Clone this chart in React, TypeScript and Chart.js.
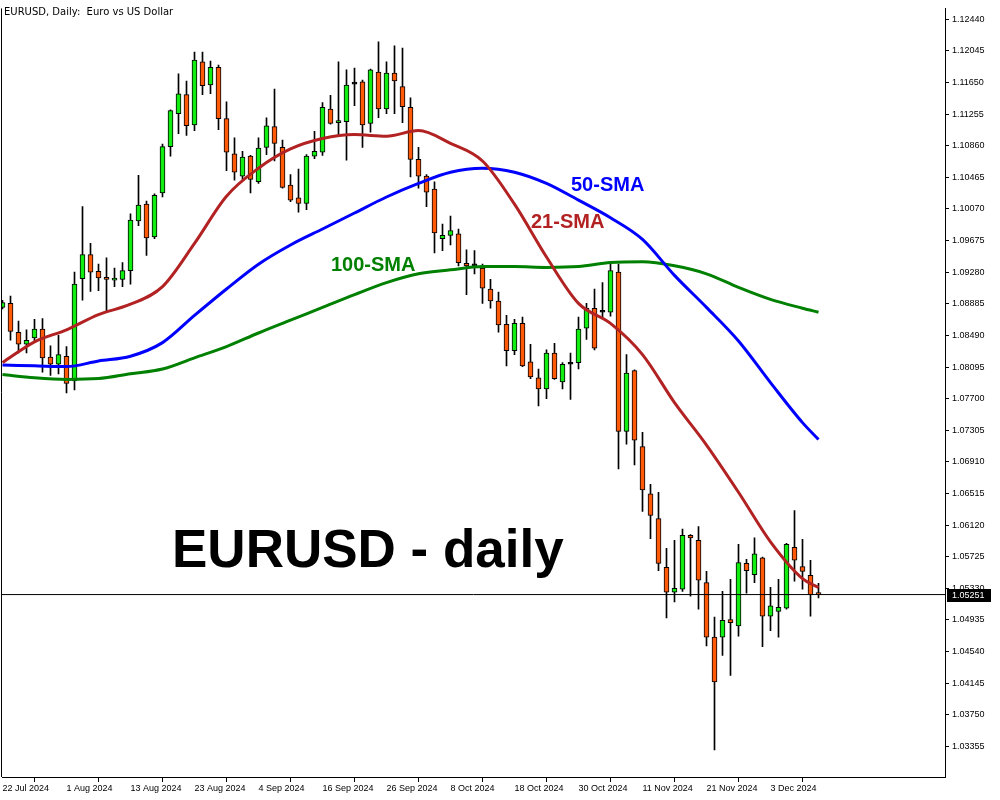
import React, { useEffect, useRef } from "react";
import { Chart, registerables } from "chart.js";

Chart.register(...registerables);

// ---- DATA ----
const opens = [
  1.0884, 1.0889, 1.0853, 1.0838, 1.0846, 1.0857, 1.0822, 1.0813, 1.0823, 1.0792,
  1.0920, 1.0950, 1.0929, 1.0920, 1.0918, 1.0919, 1.0930, 1.0992, 1.1013, 1.0972,
  1.1027, 1.1085, 1.1126, 1.1150, 1.1112, 1.1191, 1.1162, 1.1184, 1.1120, 1.1076,
  1.1048, 1.1073, 1.1041, 1.1084, 1.1110, 1.1084, 1.1037, 1.1021, 1.1014, 1.1073,
  1.1078, 1.1132, 1.1115, 1.1116, 1.1163, 1.1166, 1.1114, 1.1178, 1.1132, 1.1177,
  1.1160, 1.1134, 1.1069, 1.1048, 1.1032, 1.0970, 1.0974, 1.0976, 1.0939, 1.0936,
  1.0933, 1.0907, 1.0892, 1.0863, 1.0830, 1.0864, 1.0816, 1.0796, 1.0782, 1.0827,
  1.0791, 1.0813, 1.0815, 1.0858, 1.0883, 1.0878, 1.0878, 1.0928, 1.0729, 1.0805,
  1.0710, 1.0651, 1.0620, 1.0559, 1.0528, 1.0532, 1.0599, 1.0593, 1.0540, 1.0472,
  1.0472, 1.0494, 1.0486, 1.0564, 1.0550, 1.0571, 1.0498, 1.0504, 1.0508, 1.0584,
  1.0560, 1.0549, 1.0526,
];
const highs = [
  1.0893, 1.0898, 1.0867, 1.0856, 1.0869, 1.0870, 1.0836, 1.0849, 1.0835, 1.0928,
  1.1010, 1.0964, 1.0938, 1.0946, 1.0933, 1.0940, 1.1001, 1.1049, 1.1017, 1.1026,
  1.1088, 1.1131, 1.1176, 1.1167, 1.1203, 1.1203, 1.1192, 1.1187, 1.1141, 1.1096,
  1.1079, 1.1074, 1.1096, 1.1121, 1.1157, 1.1093, 1.1050, 1.1057, 1.1075, 1.1104,
  1.1140, 1.1149, 1.1191, 1.1181, 1.1183, 1.1168, 1.1182, 1.1216, 1.1191, 1.1211,
  1.1208, 1.1146, 1.1084, 1.1050, 1.1041, 1.0988, 1.0998, 1.0982, 1.0956, 1.0955,
  1.0938, 1.0919, 1.0903, 1.0874, 1.0869, 1.0872, 1.0838, 1.0807, 1.0831, 1.0839,
  1.0815, 1.0827, 1.0872, 1.0889, 1.0907, 1.0915, 1.0938, 1.0938, 1.0825, 1.0806,
  1.0728, 1.0663, 1.0653, 1.0583, 1.0593, 1.0607, 1.0600, 1.0610, 1.0554, 1.0497,
  1.0529, 1.0544, 1.0588, 1.0569, 1.0596, 1.0572, 1.0534, 1.0544, 1.0589, 1.0630,
  1.0594, 1.0568, 1.0539,
];
const lows = [
  1.0882, 1.0843, 1.0827, 1.0827, 1.0841, 1.0803, 1.0799, 1.0801, 1.0777, 1.0781,
  1.0893, 1.0904, 1.0905, 1.0880, 1.0910, 1.0910, 1.0913, 1.0986, 1.0949, 1.0970,
  1.1022, 1.1073, 1.1101, 1.1099, 1.1105, 1.1150, 1.1151, 1.1106, 1.1055, 1.1043,
  1.1044, 1.1027, 1.1039, 1.1075, 1.1067, 1.1033, 1.1016, 1.1003, 1.1006, 1.1070,
  1.1074, 1.1113, 1.1100, 1.1068, 1.1136, 1.1084, 1.1103, 1.1121, 1.1126, 1.1126,
  1.1115, 1.1047, 1.1033, 1.1010, 1.0952, 1.0955, 1.0962, 1.0936, 1.0900, 1.0926,
  1.0889, 1.0883, 1.0853, 1.0811, 1.0825, 1.0810, 1.0795, 1.0761, 1.0770, 1.0794,
  1.0782, 1.0769, 1.0807, 1.0844, 1.0831, 1.0870, 1.0873, 1.0682, 1.0713, 1.0687,
  1.0629, 1.0595, 1.0555, 1.0496, 1.0516, 1.0529, 1.0523, 1.0507, 1.0461, 1.0331,
  1.0449, 1.0424, 1.0473, 1.0527, 1.0540, 1.0460, 1.0480, 1.0472, 1.0507, 1.0542,
  1.0532, 1.0498, 1.0521,
];
const closes = [
  1.0890, 1.0854, 1.0838, 1.0843, 1.0857, 1.0821, 1.0813, 1.0825, 1.0789, 1.0913,
  1.0950, 1.0928, 1.0921, 1.0919, 1.0920, 1.0930, 1.0993, 1.1012, 1.0971, 1.1024,
  1.1085, 1.1130, 1.1151, 1.1111, 1.1193, 1.1161, 1.1184, 1.1120, 1.1078, 1.1053,
  1.1072, 1.1044, 1.1083, 1.1111, 1.1089, 1.1034, 1.1018, 1.1014, 1.1073, 1.1079,
  1.1134, 1.1114, 1.1117, 1.1162, 1.1163, 1.1112, 1.1181, 1.1132, 1.1177, 1.1167,
  1.1135, 1.1069, 1.1048, 1.1028, 1.0977, 1.0974, 1.0980, 1.0940, 1.0936, 1.0936,
  1.0908, 1.0892, 1.0862, 1.0830, 1.0864, 1.0811, 1.0797, 1.0782, 1.0827, 1.0795,
  1.0813, 1.0813, 1.0857, 1.0883, 1.0833, 1.0878, 1.0930, 1.0729, 1.0802, 1.0718,
  1.0656, 1.0624, 1.0564, 1.0528, 1.0533, 1.0599, 1.0596, 1.0543, 1.0472, 1.0416,
  1.0493, 1.0490, 1.0565, 1.0555, 1.0576, 1.0498, 1.0511, 1.0509, 1.0588, 1.0568,
  1.0554, 1.0525, 1.0525,
];

// moving-average lines, read at these bar indices
const smaIdx = [0, 4, 8, 12, 16, 20, 24, 28, 32, 36, 40, 44, 48, 52, 56, 60, 64, 68, 72, 76, 80, 84, 88, 92, 96, 100, 102];
const sma21 = [1.0815, 1.0841, 1.0856, 1.0875, 1.0888, 1.0910, 1.0964, 1.1023, 1.1058, 1.1082, 1.1095, 1.1100, 1.1098, 1.1105, 1.1089, 1.1067, 1.1013, 1.0947, 1.0889, 1.0864, 1.0825, 1.0765, 1.0712, 1.0653, 1.0591, 1.0545, 1.0534];
const sma50 = [1.0812, 1.0811, 1.0810, 1.0817, 1.0823, 1.0840, 1.0874, 1.0907, 1.0938, 1.0962, 1.0982, 1.1002, 1.1022, 1.1039, 1.1053, 1.1058, 1.1053, 1.1039, 1.1018, 1.0996, 1.0969, 1.0924, 1.0884, 1.0842, 1.0790, 1.0740, 1.0719];
const sma100 = [1.0800, 1.0796, 1.0794, 1.0795, 1.0801, 1.0807, 1.0821, 1.0835, 1.0852, 1.0868, 1.0884, 1.0900, 1.0915, 1.0926, 1.0931, 1.0935, 1.0935, 1.0934, 1.0935, 1.0940, 1.0941, 1.0936, 1.0926, 1.0909, 1.0894, 1.0883, 1.0878];

const xTickLabels = ["22 Jul 2024", "1 Aug 2024", "13 Aug 2024", "23 Aug 2024", "4 Sep 2024", "16 Sep 2024", "26 Sep 2024", "8 Oct 2024", "18 Oct 2024", "30 Oct 2024", "11 Nov 2024", "21 Nov 2024", "3 Dec 2024"];
const xTickStep = 8;
const yTicks = [1.1244, 1.12045, 1.1165, 1.11255, 1.1086, 1.10465, 1.1007, 1.09675, 1.0928, 1.08885, 1.0849, 1.08095, 1.077, 1.07305, 1.0691, 1.06515, 1.0612, 1.05725, 1.0533, 1.04935, 1.0454, 1.04145, 1.0375, 1.03355];
const currentPrice = 1.05251;

const BULL = "#12EE12";
const BEAR = "#FF5A0A";
const AXIS_FONT = "'Liberation Sans', Arial, sans-serif";

const overlay = {
  id: "overlay",
  afterDatasetsDraw(chart: any) {
    const { ctx, scales } = chart;
    const xs = scales.x;
    const ys = scales.y;
    const labels = [
      { t: "50-SMA", i: 71.06, p: 1.10293, c: "#0000FF", f: "bold 20px " + AXIS_FONT },
      { t: "21-SMA", i: 66.06, p: 1.09834, c: "#B22222", f: "bold 20px " + AXIS_FONT },
      { t: "100-SMA", i: 41.06, p: 1.093, c: "#008000", f: "bold 20px " + AXIS_FONT },
      { t: "EURUSD - daily", i: 21.19, p: 1.0559, c: "#000000", f: "bold 53px " + AXIS_FONT },
    ];
    ctx.save();
    ctx.textAlign = "left";
    ctx.textBaseline = "alphabetic";
    for (const l of labels) {
      ctx.font = l.f;
      ctx.fillStyle = l.c;
      ctx.fillText(l.t, xs.getPixelForValue(l.i), ys.getPixelForValue(l.p));
    }
    ctx.restore();
  },
  afterDraw(chart: any) {
    const { ctx, chartArea, scales } = chart;
    ctx.save();
    // left frame line
    ctx.strokeStyle = "#000";
    ctx.lineWidth = 1;
    ctx.beginPath();
    ctx.moveTo(chartArea.left - 0.5, chartArea.top);
    ctx.lineTo(chartArea.left - 0.5, chartArea.bottom);
    ctx.stroke();
    // header
    ctx.fillStyle = "#000";
    ctx.font = "10px 'DejaVu Sans', sans-serif";
    ctx.textBaseline = "middle";
    ctx.textAlign = "left";
    ctx.fillText("EURUSD, Daily:  Euro vs US Dollar", 4, 12);
    // current price box
    const y = Math.round(scales.y.getPixelForValue(currentPrice));
    ctx.fillStyle = "#000";
    ctx.fillRect(chartArea.right + 2, y - 6, 44, 13);
    ctx.fillStyle = "#fff";
    ctx.font = "9px " + AXIS_FONT;
    ctx.fillText(currentPrice.toFixed(5), chartArea.right + 7, y + 0.5);
    ctx.restore();
  },
};

export default function App() {
  const ref = useRef<HTMLCanvasElement>(null);

  useEffect(() => {
    const canvas = ref.current;
    if (!canvas) return;
    const bodyColors = opens.map((o, i) => (closes[i] > o ? BULL : closes[i] < o ? BEAR : "#000"));
    const line = (vals: number[]) => smaIdx.map((x, k) => ({ x, y: vals[k] }));

    const chart = new Chart(canvas, {
      type: "bar",
      data: {
        datasets: [
          {
            type: "line",
            label: "21-SMA",
            data: line(sma21),
            borderColor: "#B22222",
            borderWidth: 3,
            pointRadius: 0,
            cubicInterpolationMode: "monotone",
            fill: false,
            order: 1,
          } as any,
          {
            type: "line",
            label: "50-SMA",
            data: line(sma50),
            borderColor: "#0000FF",
            borderWidth: 3,
            pointRadius: 0,
            cubicInterpolationMode: "monotone",
            fill: false,
            order: 2,
          } as any,
          {
            type: "line",
            label: "100-SMA",
            data: line(sma100),
            borderColor: "#008000",
            borderWidth: 3,
            pointRadius: 0,
            cubicInterpolationMode: "monotone",
            fill: false,
            order: 3,
          } as any,
          {
            type: "line",
            label: "price",
            data: [
              { x: -2, y: currentPrice },
              { x: 120, y: currentPrice },
            ],
            borderColor: "#000",
            borderWidth: 1,
            pointRadius: 0,
            fill: false,
            order: 8,
          } as any,
          {
            type: "bar",
            label: "body",
            data: opens.map((o, i) => ({ x: i, y: [o, closes[i]] })),
            backgroundColor: bodyColors,
            borderColor: "#000",
            borderWidth: 1,
            borderSkipped: false,
            barThickness: 5,
            minBarLength: 2,
            grouped: false,
            order: 9,
          } as any,
          {
            type: "bar",
            label: "wick",
            data: lows.map((l, i) => ({ x: i, y: [l, highs[i]] })),
            backgroundColor: "#000",
            borderWidth: 0,
            barThickness: 1,
            grouped: false,
            order: 10,
          } as any,
        ],
      },
      options: {
        responsive: false,
        animation: false,
        events: [],
        layout: { padding: { left: 2, top: 3, right: 0, bottom: 0 }, autoPadding: false } as any,
        plugins: { legend: { display: false }, tooltip: { enabled: false } },
        scales: {
          x: {
            type: "linear",
            min: -0.0625,
            max: 117.8125,
            offset: false,
            grid: { drawOnChartArea: false, drawTicks: true, tickLength: 5, color: "#000" },
            border: { display: true, color: "#000" },
            ticks: {
              autoSkip: false,
              maxRotation: 0,
              align: "start",
              padding: 1,
              color: "#000",
              font: { family: AXIS_FONT, size: 9 },
              callback: (v: any) => {
                const k = Math.round(Number(v) / xTickStep);
                return xTickLabels[k] ?? "";
              },
            },
            afterBuildTicks: (s: any) => {
              s.ticks = xTickLabels.map((_, k) => ({ value: k * xTickStep }));
            },
            afterFit: (s: any) => {
              s.height = 23;
            },
          } as any,
          y: {
            type: "linear",
            position: "right",
            min: 1.02971,
            max: 1.12577,
            beginAtZero: false,
            grid: { drawOnChartArea: false, drawTicks: true, tickLength: 4, color: "#000" },
            border: { display: true, color: "#000" },
            ticks: {
              autoSkip: false,
              padding: 3,
              color: "#000",
              font: { family: AXIS_FONT, size: 9 },
              callback: (v: any) => Number(v).toFixed(5),
            },
            afterBuildTicks: (s: any) => {
              s.ticks = yTicks.map((v) => ({ value: v }));
            },
            afterFit: (s: any) => {
              s.width = 55;
            },
          } as any,
        },
      },
      plugins: [overlay],
    } as any);

    return () => chart.destroy();
  }, []);

  return (
    <div style={{ position: "fixed", left: 0, top: 0, width: 1000, height: 800, background: "#fff" }}>
      <canvas ref={ref} width={1000} height={800} style={{ display: "block", width: 1000, height: 800 }} />
    </div>
  );
}
